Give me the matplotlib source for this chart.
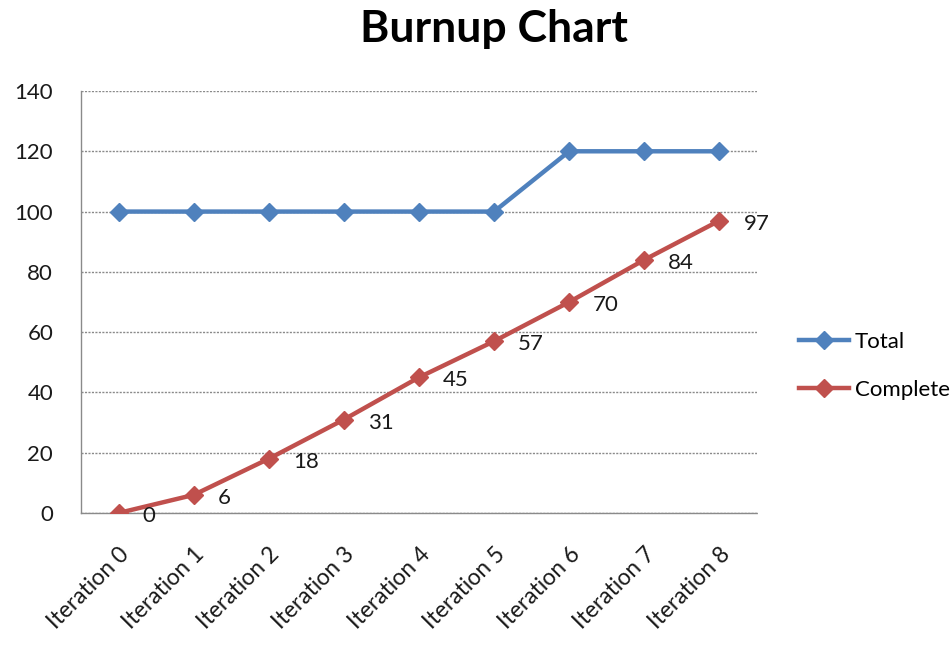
import matplotlib
matplotlib.use("Agg")
import matplotlib.pyplot as plt

categories = ["Iteration 0", "Iteration 1", "Iteration 2", "Iteration 3", "Iteration 4",
              "Iteration 5", "Iteration 6", "Iteration 7", "Iteration 8"]
total = [100, 100, 100, 100, 100, 100, 120, 120, 120]
completed = [0, 6, 18, 31, 45, 57, 70, 84, 97]
yticks = [0, 20, 40, 60, 80, 100, 120, 140]

plt.rcParams['font.family'] = ['Lato', 'DejaVu Sans']

fig = plt.figure(figsize=(9.5, 6.6), dpi=100)
ax = fig.add_axes([81/950, 1-513/660, (757-81)/950, (513-91)/660])

blue = "#4F81BD"
red = "#C0504D"
x = list(range(len(categories)))
fs = 16

ax.plot(x, total, color=blue, lw=3.2, marker='D', ms=9, label="Total", zorder=3)
ax.plot(x, completed, color=red, lw=3.2, marker='D', ms=9, label="Completed", zorder=3)

for xi, v in zip(x, completed):
    ax.annotate(str(v), (xi, v), xytext=(24, -3), textcoords='offset pixels',
                ha='left', va='center', fontsize=fs, color='#1a1a1a')

ax.set_xlim(-0.5, len(categories) - 0.5)
ax.set_ylim(0, 140)
ax.set_yticks(yticks)
ax.set_xticks(x)
ax.set_xticklabels(categories, rotation=45, ha='right', rotation_mode='anchor', fontsize=16.5)
ax.tick_params(axis='y', labelsize=fs, length=0, pad=20)
ax.tick_params(axis='x', length=0, pad=22)
for lbl in ax.get_yticklabels() + ax.get_xticklabels():
    lbl.set_color('#1a1a1a')

ax.grid(axis='y', color='#8a8a8a', lw=1.0, ls=(0, (1.5, 1.0)))
ax.set_axisbelow(True)
for s in ['top', 'right']:
    ax.spines[s].set_visible(False)
for s in ['left', 'bottom']:
    ax.spines[s].set_color('#8a8a8a')
    ax.spines[s].set_linewidth(1.0)
    ax.spines[s].set_linestyle((0, (1.5, 1.0)))

fig.text(494/950, 1-29/660, "Burnup Chart", ha='center', va='center',
         fontsize=32, fontweight='bold', color='black')

fig.legend(loc='center left', bbox_to_anchor=(799/950, 1-366/660), frameon=False,
           fontsize=fs, handlelength=2.25, labelspacing=1.25, handletextpad=0.25,
           borderaxespad=0, borderpad=0)

fig.savefig("out.png", dpi=100)
